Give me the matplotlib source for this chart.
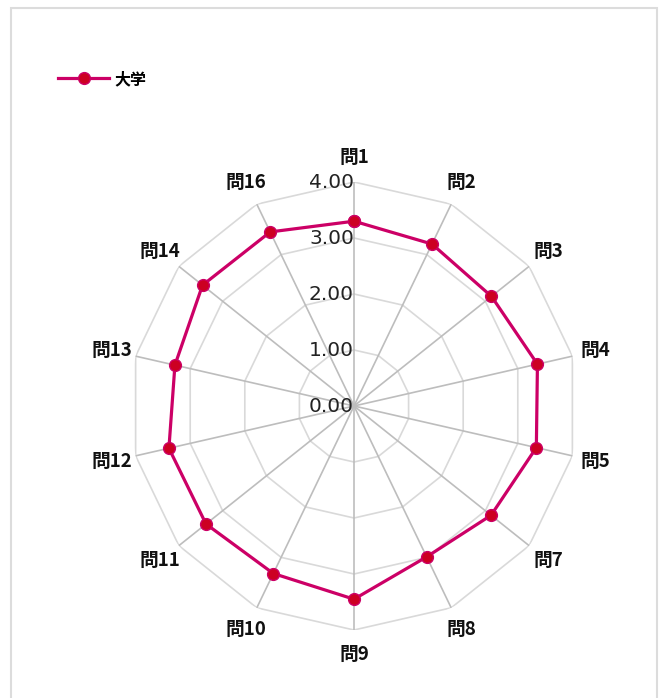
import numpy as np
import matplotlib
matplotlib.use("Agg")
import matplotlib.pyplot as plt
from matplotlib.patches import Rectangle

plt.rcParams['font.family'] = ['Noto Sans CJK JP', 'DejaVu Sans']

# données
questions = ["問1", "問2", "問3", "問4", "問5", "問7", "問8",
             "問9", "問10", "問11", "問12", "問13", "問14", "問16"]
valeurs = [3.30, 3.21, 3.14, 3.36, 3.34, 3.13, 2.99,
           3.45, 3.32, 3.38, 3.39, 3.28, 3.46, 3.45]
graduations = [0, 1, 2, 3, 4]
etiquettes_grad = ["0.00", "1.00", "2.00", "3.00", "4.00"]
serie = "大学"

W, H = 664, 698
fig = plt.figure(figsize=(W / 100, H / 100), dpi=100)

# cadre gris autour du graphique
fig.patches.append(Rectangle((11 / W, -0.05), 646 / W, 1.05 - 8 / H,
                             transform=fig.transFigure, fill=False,
                             edgecolor="#dcdcdc", linewidth=1.5))

cx, cy, R = 354, 406, 224
ax = fig.add_axes([(cx - R) / W, (H - cy - R) / H, 2 * R / W, 2 * R / H],
                  projection="polar")
ax.set_theta_zero_location("N")
ax.set_theta_direction(-1)
ax.set_ylim(0, 4)
ax.grid(False)
ax.spines["polar"].set_visible(False)
ax.set_xticks([])
ax.set_yticks([])
ax.patch.set_alpha(0)

n = len(questions)
angles = np.linspace(0, 2 * np.pi, n, endpoint=False)
angles_ferme = np.append(angles, angles[0])

# anneaux polygonaux
for g in graduations[1:]:
    ax.plot(angles_ferme, [g] * (n + 1), color="#d9d9d9", lw=1.2, zorder=1)
# rayons
for a in angles:
    ax.plot([a, a], [0, 4], color="#bdbdbd", lw=1.2, zorder=1)

# série
vals = valeurs + valeurs[:1]
ax.plot(angles_ferme, vals, color="#cc0066", lw=2.3, marker="o",
        markersize=8.5, markerfacecolor="#cc0022", markeredgecolor="#cc0066",
        markeredgewidth=1, label=serie, zorder=3, clip_on=False)

# étiquettes des graduations
for g, t in zip(graduations, etiquettes_grad):
    ax.text(0, g, t, ha="right", va="center", fontsize=14.5,
            color="#222222", family=["DejaVu Sans"], zorder=2)

# étiquettes des questions
for a, q in zip(angles, questions):
    ax.text(a, 4.43, q, ha="center", va="center", fontsize=13.5,
            fontweight="bold", color="#111111")

fig.legend(loc="center left", bbox_to_anchor=(44 / W, 1 - 79 / H),
           frameon=False, handlelength=3.2, handletextpad=0.3,
           prop={"weight": "bold", "size": 11.5})

fig.savefig("out.png", dpi=100)
